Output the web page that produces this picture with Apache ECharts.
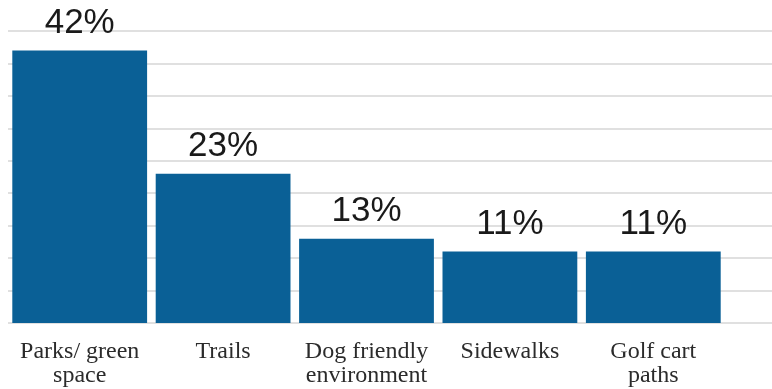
<!DOCTYPE html>
<html lang="en">
<head>
    <meta charset="UTF-8">
    <title>Amenities</title>
    <script src="https://cdn.jsdelivr.net/npm/echarts@6/dist/echarts.min.js"></script>
</head>
<body style="margin:0; background:#fff;">
    <div id="graph" style="width: 772px; height: 389px;"></div>

    <script>
        var categories = ['Parks/ green\nspace', 'Trails', 'Dog friendly\nenvironment', 'Sidewalks', 'Golf cart\npaths'];
        var values = [42, 23, 13, 11, 11];
        var yMax = 45;
        var yStep = 5;

        var myChart = echarts.init(document.getElementById('graph'));
        var option = {
            animation: false,
            grid: [
                // full width grid, only used for the horizontal lines
                {left: 8, right: 0, top: 31, bottom: 66},
                {left: 8, width: 717, top: 31, bottom: 66}
            ],
            xAxis: [
                {type: 'category', gridIndex: 0, data: [''], show: false},
                {
                    type: 'category', gridIndex: 1, data: categories,
                    axisLine: {show: false},
                    axisTick: {show: false},
                    axisLabel: {
                        margin: 17,
                        interval: 0,
                        color: '#2b2b2b',
                        fontFamily: 'Liberation Serif',
                        fontSize: 24,
                        lineHeight: 24
                    }
                }
            ],
            yAxis: [
                {
                    type: 'value', gridIndex: 0, min: 0, max: yMax, interval: yStep,
                    axisLabel: {show: false},
                    axisLine: {show: false},
                    axisTick: {show: false},
                    splitLine: {lineStyle: {color: '#d6d6d6', width: 1.5}}
                },
                {
                    type: 'value', gridIndex: 1, min: 0, max: yMax, interval: yStep,
                    show: false
                }
            ],
            series: [{
                type: 'bar',
                xAxisIndex: 1,
                yAxisIndex: 1,
                data: values,
                barCategoryGap: '6%',
                itemStyle: {color: '#0a6096'},
                label: {
                    show: true,
                    position: 'top',
                    distance: 10,
                    formatter: '{c}%',
                    color: '#1a1a1a',
                    fontFamily: 'Liberation Sans',
                    fontSize: 35
                }
            }]
        };
        myChart.setOption(option);
    </script>
</body>
</html>
